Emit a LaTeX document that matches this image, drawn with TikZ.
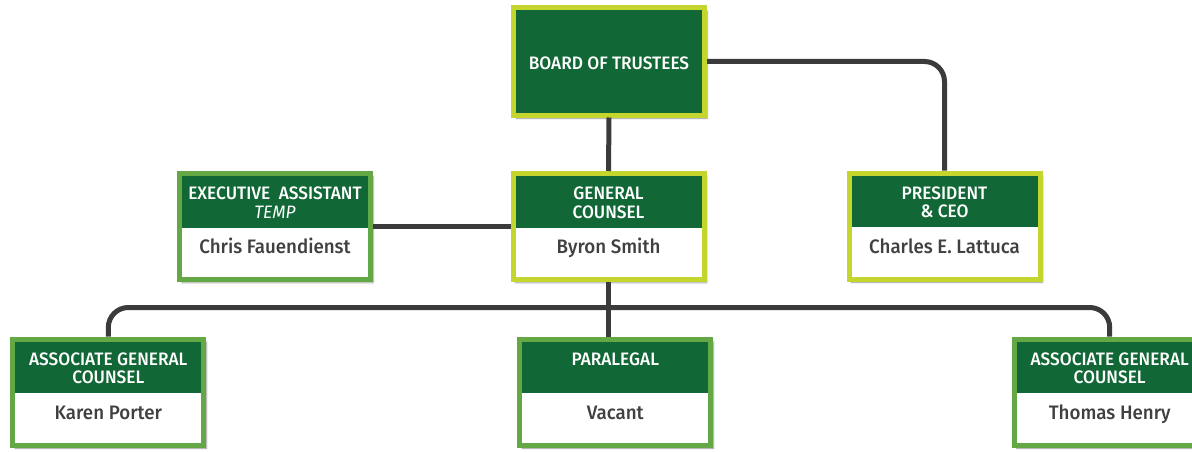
\documentclass[tikz,border=0pt]{standalone}
\usepackage{fontspec}
\setmainfont{Fira Sans}[BoldFont={Fira Sans Medium}, FakeStretch=0.96]
\usetikzlibrary{shadows.blur}

\definecolor{verde}{HTML}{116836}
\definecolor{lima}{HTML}{C4D62E}
\definecolor{verdemedio}{HTML}{63A845}
\definecolor{gris}{HTML}{3B3B3B}
\definecolor{texto}{HTML}{404040}

\begin{document}
\begin{tikzpicture}[x=1pt, y=-1pt,
    caja/.style={draw=#1, line width=5pt, fill=white, minimum width=191pt,
        minimum height=106pt, inner sep=0pt,
        blur shadow={shadow xshift=2.5pt, shadow yshift=-3pt, shadow blur radius=2pt, shadow opacity=45},
        path picture={\fill[verde] (path picture bounding box.north west) rectangle ([yshift=-54pt]path picture bounding box.north east);}},
    caja/.default=lima,
    titulo/.style={text=white, font=\fontsize{18}{18.5}\selectfont\bfseries, align=center, inner sep=0pt, anchor=north},
    nombre/.style={text=texto, font=\fontsize{19.5}{20}\selectfont\bfseries, inner sep=0pt, anchor=base},
    conector/.style={draw=gris, line width=5pt}]

        % Marco
        \useasboundingbox (0,0) rectangle (1192,452);

        % Junta
        \node[caja, fill=verde, path picture={}, minimum height=107pt] (junta) at (609,61.5) {};
        \node[titulo, anchor=center] (junta-t) at ([yshift=-1.5pt]junta.center) {BOARD OF TRUSTEES};

        % Segundo nivel
        \node[caja=verdemedio] (asist) at (275,226.5) {};
        \node[caja] (consejo) at (608.5,226.5) {};
        \node[caja] (pres) at (944.5,226) {};

        % Tercer nivel
        \node[caja=verdemedio] (asoc1) at (108.3,392) {};
        \node[caja=verdemedio] (para) at (615.3,392) {};
        \node[caja=verdemedio] (asoc2) at (1109.7,392) {};

        % Cargos
        \node[titulo] (asist-t) at ([yshift=-16pt]asist.north) {EXECUTIVE~~ASSISTANT\\{\mdseries\itshape TEMP}};
        \node[titulo] (consejo-t) at ([yshift=-16pt]consejo.north) {GENERAL\\COUNSEL};
        \node[titulo] (pres-t) at ([yshift=-16pt]pres.north) {PRESIDENT\\\& CEO};
        \node[titulo] (asoc1-t) at ([yshift=-16pt]asoc1.north) {ASSOCIATE GENERAL\\COUNSEL};
        \node[titulo] (para-t) at ([yshift=-16pt]para.north) {PARALEGAL};
        \node[titulo] (asoc2-t) at ([yshift=-16pt]asoc2.north) {ASSOCIATE GENERAL\\COUNSEL};

        % Nombres
        \node[nombre] (asist-n) at ([yshift=-82.5pt]asist.north) {Chris Fauendienst};
        \node[nombre] (consejo-n) at ([yshift=-82.5pt]consejo.north) {Byron Smith};
        \node[nombre] (pres-n) at ([yshift=-82.5pt]pres.north) {Charles E. Lattuca};
        \node[nombre] (asoc1-n) at ([yshift=-82.5pt]asoc1.north) {Karen Porter};
        \node[nombre] (para-n) at ([yshift=-82.5pt]para.north) {Vacant};
        \node[nombre] (asoc2-n) at ([yshift=-82.5pt]asoc2.north) {Thomas Henry};

        % Conectores
        \draw[conector] (junta.south) -- (consejo.north);
        \draw[conector, rounded corners=20pt] (junta.east) -| (pres.north);
        \draw[conector] (asist.east) -- (consejo.west);
        \draw[conector] (consejo.south) -- (consejo.south |- para.north);
        \coordinate (rama) at (608.5,307.5);
        \draw[conector, rounded corners=20pt] (asoc1.north) |- (rama) -| (asoc2.north);
    \end{tikzpicture}
\end{document}
